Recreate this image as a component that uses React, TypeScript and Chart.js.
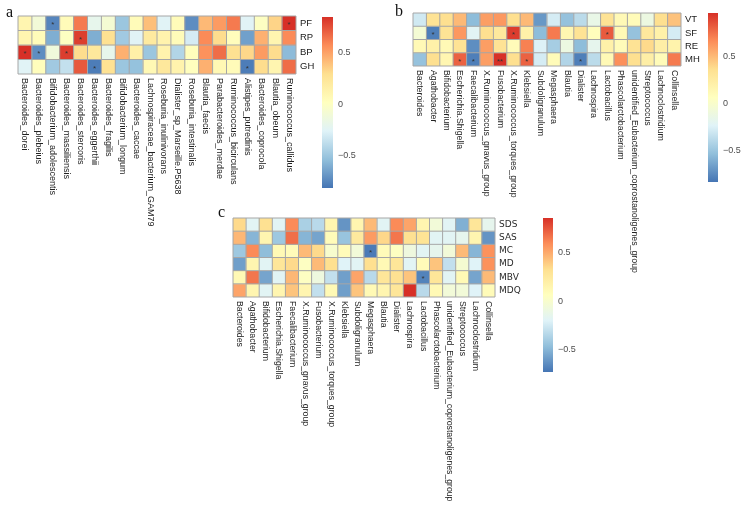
import React, { useEffect, useRef } from "react";
import { Chart, registerables } from "chart.js";
Chart.register(...registerables);

// ---------------- Panel a ----------------
const aCols = [
  "Bacteroides_dorei", "Bacteroides_plebeius", "Bifidobacterium_adolescentis", "Bacteroides_massiliensis",
  "Bacteroides_stercoris", "Bacteroides_eggerthii", "Bacteroides_fragilis", "Bifidobacterium_longum",
  "Bacteroides_caccae", "Lachnospiraceae_bacterium_GAM79", "Roseburia_inulinivorans", "Dialister_sp_Marseille.P5638",
  "Roseburia_intestinalis", "Blautia_faecis", "Parabacteroides_merdae", "Ruminococcus_bicirculans",
  "Alistipes_putredinis", "Bacteroides_coprocola", "Blautia_obeum", "Ruminococcus_callidus",
];
const aRows = ["PF", "RP", "BP", "GH"];
const aPF = [0.1, -0.1, -0.75, 0.05, 0.62, -0.2, -0.08, -0.5, 0.05, 0.4, -0.25, 0.05, -0.72, 0.42, 0.52, 0.62, -0.25, 0.0, 0.33, 0.84];
const aRP = [0.1, 0.05, -0.6, 0.0, 0.8, -0.6, 0.28, -0.48, -0.25, 0.2, 0.12, 0.05, -0.3, 0.57, 0.3, 0.03, -0.65, 0.45, 0.1, 0.57];
const aBP = [0.84, -0.72, -0.12, 0.8, 0.3, 0.22, -0.2, 0.45, 0.15, -0.5, 0.12, -0.42, 0.03, 0.55, 0.66, 0.28, 0.32, 0.52, 0.3, -0.55];
const aGH = [-0.25, 0.03, -0.48, -0.36, 0.72, -0.78, 0.27, -0.5, -0.52, 0.08, 0.22, 0.12, 0.02, 0.45, 0.08, 0.05, -0.78, 0.3, 0.1, 0.66];
const aSig: [number, number, string][] = [[0, 2, "*"], [0, 19, "*"], [1, 4, "*"], [2, 0, "*"], [2, 1, "*"], [2, 3, "*"], [3, 5, "*"], [3, 16, "*"]];
const aRange: [number, number] = [-0.81, 0.84];

// ---------------- Panels b & c (shared genera) ----------------
const bcCols = [
  "Bacteroides", "Agathobacter", "Bifidobacterium", "Escherichia.Shigella", "Faecalibacterium",
  "X.Ruminococcus_gnavus_group", "Fusobacterium", "X.Ruminococcus_torques_group", "Klebsiella", "Subdoligranulum",
  "Megasphaera", "Blautia", "Dialister", "Lachnospira", "Lactobacillus", "Phascolarctobacterium",
  "unidentified_Eubacterium_coprostanoligenes_group", "Streptococcus", "Lachnoclostridium", "Collinsella",
];
const bRows = ["VT", "SF", "RE", "MH"];
const bVT = [-0.3, 0.33, 0.36, 0.5, -0.55, 0.6, 0.62, 0.36, 0.5, -0.7, -0.28, -0.52, -0.38, -0.15, 0.33, 0.12, 0.1, -0.12, 0.36, 0.47];
const bSF = [-0.05, -0.8, 0.33, 0.62, -0.22, 0.36, 0.28, 0.92, 0.2, -0.55, 0.72, 0.15, 0.33, 0.08, 0.82, 0.12, -0.52, 0.28, 0.2, -0.28];
const bRE = [0.12, 0.2, 0.12, 0.33, -0.74, 0.6, 0.33, 0.1, 0.7, -0.25, -0.46, -0.12, -0.55, -0.18, 0.2, 0.1, 0.33, 0.38, 0.22, 0.18];
const bMH = [-0.52, 0.36, 0.15, 0.8, -0.8, 0.6, 0.96, 0.36, 0.8, -0.28, 0.1, -0.42, -0.8, -0.38, 0.12, 0.65, 0.36, 0.22, 0.1, 0.72];
const bSig: [number, number, string][] = [[1, 1, "*"], [1, 7, "*"], [1, 14, "*"], [3, 3, "*"], [3, 4, "*"], [3, 6, "**"], [3, 8, "*"], [3, 12, "*"]];
const bRange: [number, number] = [-0.84, 0.96];

const cRows = ["SDS", "SAS", "MC", "MD", "MBV", "MDQ"];
const cSDS = [0.35, -0.18, 0.32, -0.18, 0.6, -0.38, -0.33, 0.15, -0.62, 0.15, 0.45, -0.18, 0.6, 0.52, 0.15, -0.05, -0.18, -0.52, 0.28, -0.15];
const cSAS = [0.46, -0.5, 0.15, -0.42, 0.68, -0.5, -0.56, 0.1, -0.44, 0.25, 0.55, 0.36, 0.66, 0.32, 0.3, -0.18, -0.18, -0.15, 0.15, -0.62];
const cMC = [-0.42, 0.6, -0.47, 0.12, 0.1, 0.45, 0.35, 0.0, 0.1, -0.05, -0.71, 0.1, 0.05, -0.08, -0.18, -0.15, -0.05, 0.45, -0.5, 0.58];
const cMD = [-0.58, 0.15, -0.18, 0.28, 0.35, 0.05, 0.45, 0.33, -0.2, -0.18, 0.33, 0.12, 0.28, -0.18, 0.1, 0.42, -0.3, -0.02, -0.2, 0.58];
const cMBV = [0.12, 0.66, -0.56, -0.18, 0.46, 0.05, -0.08, -0.3, -0.58, 0.52, -0.33, 0.28, 0.32, 0.42, -0.68, 0.28, -0.18, 0.12, -0.56, 0.45];
const cMDQ = [0.52, 0.15, -0.18, 0.15, 0.42, 0.15, -0.3, 0.12, -0.58, 0.42, 0.12, 0.15, 0.28, 0.86, -0.33, 0.12, -0.05, -0.05, -0.2, 0.1];
const cSig: [number, number, string][] = [[2, 10, "*"], [4, 14, "*"]];
const cRange: [number, number] = [-0.73, 0.86];

const cbTicks = [-0.5, 0, 0.5];

// ---------------- helpers ----------------
const PALETTE = ["#4575B4", "#91BFDB", "#E0F3F8", "#FFFFBF", "#FEE090", "#FC8D59", "#D73027"];
function hexRgb(h: string) {
  return [parseInt(h.slice(1, 3), 16), parseInt(h.slice(3, 5), 16), parseInt(h.slice(5, 7), 16)];
}
function colorFor(v: number, range: [number, number]) {
  let t = (v - range[0]) / (range[1] - range[0]);
  t = Math.max(0, Math.min(1, t));
  const s = t * 6;
  const i = Math.min(5, Math.floor(s));
  const f = s - i;
  const a = hexRgb(PALETTE[i]);
  const b = hexRgb(PALETTE[i + 1]);
  const c = a.map((x, k) => Math.round(x + (b[k] - x) * f));
  return `rgb(${c[0]},${c[1]},${c[2]})`;
}
const fmtTick = (v: number) => (v === 0 ? "0" : v < 0 ? "\u2212" + Math.abs(v) : String(v));

const heatDecor = {
  id: "heatDecor",
  afterDatasetsDraw(chart: any, _args: any, opts: any) {
    const { ctx, chartArea: ca } = chart;
    const x = chart.scales.x;
    const y = chart.scales.y;
    const nC = opts.cols.length;
    const nR = opts.rows.length;
    ctx.save();
    ctx.strokeStyle = "#a6a6a6";
    ctx.lineWidth = 1;
    ctx.beginPath();
    for (let i = 0; i <= nC; i++) {
      const px = x.getPixelForValue(i - 0.5);
      ctx.moveTo(px, ca.top);
      ctx.lineTo(px, ca.bottom);
    }
    for (let r = 0; r <= nR; r++) {
      const py = y.getPixelForValue(r);
      ctx.moveTo(ca.left, py);
      ctx.lineTo(ca.right, py);
    }
    ctx.stroke();
    // significance marks
    ctx.fillStyle = "#333333";
    ctx.font = "8px 'Liberation Sans', Arial, sans-serif";
    ctx.textAlign = "center";
    ctx.textBaseline = "middle";
    for (const [r, c, m] of opts.sig) {
      ctx.fillText(m, x.getPixelForValue(c), y.getPixelForValue(r + 0.5) + 2);
    }
    // column labels, rotated clockwise
    ctx.fillStyle = "#222222";
    ctx.font = opts.colFont;
    ctx.textAlign = "left";
    ctx.textBaseline = "middle";
    opts.cols.forEach((lab: string, i: number) => {
      ctx.save();
      ctx.translate(x.getPixelForValue(i), ca.bottom + 4);
      ctx.rotate(Math.PI / 2);
      ctx.fillText(lab, 0, 0);
      ctx.restore();
    });
    ctx.restore();
  },
};

type HeatProps = {
  cols: string[];
  rows: string[];
  values: number[][];
  sig: [number, number, string][];
  range: [number, number];
  left: number;
  top: number;
  width: number;
  height: number;
  area: { l: number; t: number; r: number; b: number };
  rowFont: any;
  rowColor: string;
  colFont: string;
};

function Heatmap(p: HeatProps) {
  const ref = useRef<HTMLCanvasElement>(null);
  useEffect(() => {
    const chart = new Chart(ref.current as HTMLCanvasElement, {
      type: "bar",
      data: {
        labels: p.cols,
        datasets: p.rows.map((r, ri) => ({
          label: r,
          data: p.cols.map(() => [ri, ri + 1]),
          backgroundColor: p.values[ri].map((v) => colorFor(v, p.range)),
          borderWidth: 0,
          barPercentage: 1,
          categoryPercentage: 1,
          grouped: false,
        })),
      } as any,
      options: {
        responsive: false,
        animation: false,
        events: [],
        layout: {
          padding: {
            left: p.area.l - p.left,
            top: p.area.t - p.top,
            right: 0,
            bottom: p.top + p.height - p.area.b,
          },
        },
        plugins: {
          legend: { display: false },
          tooltip: { enabled: false },
          heatDecor: { cols: p.cols, rows: p.rows, sig: p.sig, colFont: p.colFont },
        } as any,
        scales: {
          x: { type: "category", display: false, offset: true },
          y: {
            type: "linear",
            min: 0,
            max: p.rows.length,
            reverse: true,
            position: "right",
            grid: { display: false, drawTicks: false },
            border: { display: false },
            ticks: {
              padding: 4,
              font: p.rowFont,
              color: p.rowColor,
              autoSkip: false,
              callback: (_v: any, i: number) => p.rows[i],
            },
            afterBuildTicks: (s: any) => {
              s.ticks = p.rows.map((_, i) => ({ value: i + 0.5 }));
            },
            afterFit: (s: any) => {
              s.width = p.left + p.width - p.area.r;
            },
          } as any,
        },
      },
      plugins: [heatDecor],
    });
    return () => chart.destroy();
  }, []);
  return (
    <canvas
      ref={ref}
      width={p.width}
      height={p.height}
      style={{ position: "absolute", left: p.left, top: p.top, width: p.width, height: p.height }}
    />
  );
}

type CBProps = {
  left: number;
  top: number;
  width: number;
  height: number;
  barW: number;
  barTop: number;
  barBottom: number;
  range: [number, number];
};

function ColorBar(p: CBProps) {
  const ref = useRef<HTMLCanvasElement>(null);
  useEffect(() => {
    const chart = new Chart(ref.current as HTMLCanvasElement, {
      type: "bar",
      data: {
        labels: ["scale"],
        datasets: [
          {
            data: [[p.range[0], p.range[1]]],
            backgroundColor: (c: any) => {
              const ca = c.chart.chartArea;
              if (!ca) return PALETTE[3];
              const g = c.chart.ctx.createLinearGradient(0, ca.bottom, 0, ca.top);
              PALETTE.forEach((col, i) => g.addColorStop(i / 6, col));
              return g;
            },
            borderWidth: 0,
            barPercentage: 1,
            categoryPercentage: 1,
          },
        ],
      } as any,
      options: {
        responsive: false,
        animation: false,
        events: [],
        layout: {
          padding: { left: 0, top: p.barTop - p.top, right: 0, bottom: p.top + p.height - p.barBottom },
        },
        plugins: { legend: { display: false }, tooltip: { enabled: false } },
        scales: {
          x: { type: "category", display: false, offset: true },
          y: {
            type: "linear",
            min: p.range[0],
            max: p.range[1],
            position: "right",
            grid: { display: false, drawTicks: false },
            border: { display: false },
            ticks: {
              padding: 5,
              font: { family: "'Liberation Sans', Arial, sans-serif", size: 9 },
              color: "#4d4d4d",
              callback: (v: any) => fmtTick(Number(v)),
            },
            afterBuildTicks: (s: any) => {
              s.ticks = cbTicks.map((v) => ({ value: v }));
            },
            afterFit: (s: any) => {
              s.width = p.width - p.barW;
            },
          } as any,
        },
      },
    });
    return () => chart.destroy();
  }, []);
  return (
    <canvas
      ref={ref}
      width={p.width}
      height={p.height}
      style={{ position: "absolute", left: p.left, top: p.top, width: p.width, height: p.height }}
    />
  );
}

const letterStyle = (left: number, top: number): React.CSSProperties => ({
  position: "absolute",
  left,
  top,
  fontFamily: "'Liberation Serif', 'Times New Roman', serif",
  fontSize: 16,
  lineHeight: "16px",
  color: "#111",
});

const rowFontAB = { family: "'Liberation Sans', Arial, sans-serif", size: 9.5 };
const rowFontC = { family: "'DejaVu Sans', Verdana, sans-serif", size: 9 };

export default function App() {
  return (
    <div style={{ position: "absolute", left: 0, top: 0, width: 743, height: 509, background: "#fff", overflow: "hidden" }}>
      <Heatmap
        cols={aCols}
        rows={aRows}
        values={[aPF, aRP, aBP, aGH]}
        sig={aSig}
        range={aRange}
        left={0}
        top={0}
        width={320}
        height={240}
        area={{ l: 18, t: 16, r: 296, b: 74 }}
        rowFont={rowFontAB}
        rowColor="#1a1a1a"
        colFont="9px 'Liberation Sans', Arial, sans-serif"
      />
      <ColorBar left={322} top={0} width={40} height={200} barW={11} barTop={17} barBottom={188} range={aRange} />

      <Heatmap
        cols={bcCols}
        rows={bRows}
        values={[bVT, bSF, bRE, bMH]}
        sig={bSig}
        range={bRange}
        left={400}
        top={0}
        width={302}
        height={285}
        area={{ l: 413, t: 13, r: 681, b: 66 }}
        rowFont={rowFontAB}
        rowColor="#1a1a1a"
        colFont="8.8px 'Liberation Sans', Arial, sans-serif"
      />
      <ColorBar left={708} top={0} width={35} height={200} barW={10} barTop={13} barBottom={182} range={bRange} />

      <Heatmap
        cols={bcCols}
        rows={cRows}
        values={[cSDS, cSAS, cMC, cMD, cMBV, cMDQ]}
        sig={cSig}
        range={cRange}
        left={215}
        top={205}
        width={322}
        height={304}
        area={{ l: 233, t: 218, r: 495, b: 297 }}
        rowFont={rowFontC}
        rowColor="#2b2b2b"
        colFont="8.7px 'Liberation Sans', Arial, sans-serif"
      />
      <ColorBar left={543} top={205} width={40} height={180} barW={10} barTop={218} barBottom={372} range={cRange} />

      <div style={letterStyle(6, 4)}>a</div>
      <div style={letterStyle(395, 3)}>b</div>
      <div style={letterStyle(218, 204)}>c</div>
    </div>
  );
}
